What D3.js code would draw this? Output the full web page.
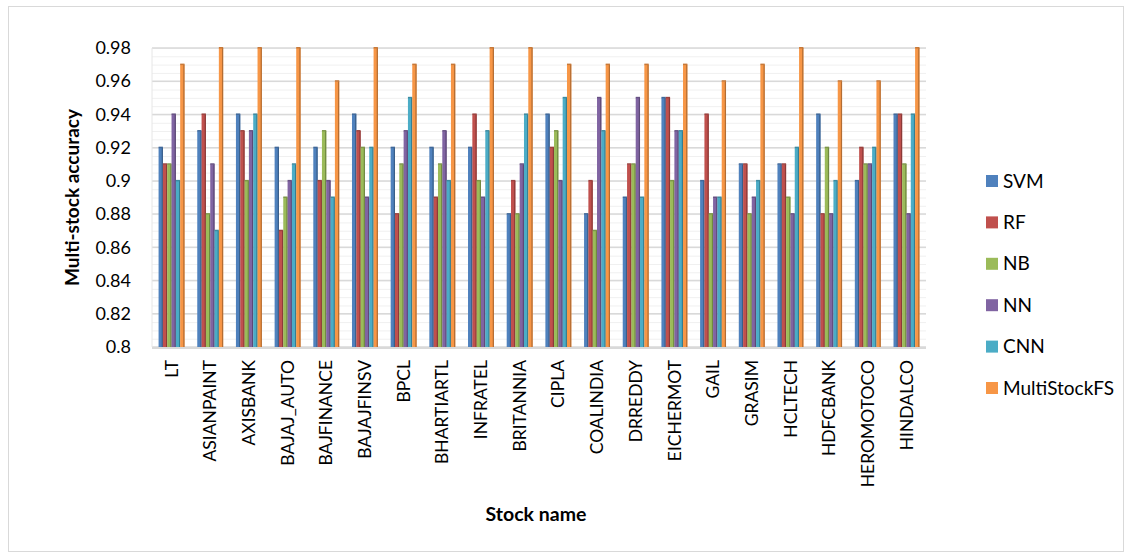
<!DOCTYPE html>
<html><head><meta charset="utf-8">
<script src="https://cdn.jsdelivr.net/npm/d3@7"></script>
<style>body{margin:0;background:#fff}svg{display:block}text{font-family:Lato,"Open Sans",sans-serif;fill:#000}</style>
</head><body><svg id="c" width="1132" height="560"></svg>
<script>
const categories = ["LT","ASIANPAINT","AXISBANK","BAJAJ_AUTO","BAJFINANCE","BAJAJFINSV","BPCL","BHARTIARTL","INFRATEL","BRITANNIA","CIPLA","COALINDIA","DRREDDY","EICHERMOT","GAIL","GRASIM","HCLTECH","HDFCBANK","HEROMOTOCO","HINDALCO"];
const seriesNames = ["SVM","RF","NB","NN","CNN","MultiStockFS"];
const SVM  = [0.92,0.93,0.94,0.92,0.92,0.94,0.92,0.92,0.92,0.88,0.94,0.88,0.89,0.95,0.90,0.91,0.91,0.94,0.90,0.94];
const RF   = [0.91,0.94,0.93,0.87,0.90,0.93,0.88,0.89,0.94,0.90,0.92,0.90,0.91,0.95,0.94,0.91,0.91,0.88,0.92,0.94];
const NB   = [0.91,0.88,0.90,0.89,0.93,0.92,0.91,0.91,0.90,0.88,0.93,0.87,0.91,0.90,0.88,0.88,0.89,0.92,0.91,0.91];
const NN   = [0.94,0.91,0.93,0.90,0.90,0.89,0.93,0.93,0.89,0.91,0.90,0.95,0.95,0.93,0.89,0.89,0.88,0.88,0.91,0.88];
const CNN  = [0.90,0.87,0.94,0.91,0.89,0.92,0.95,0.90,0.93,0.94,0.95,0.93,0.89,0.93,0.89,0.90,0.92,0.90,0.92,0.94];
const MultiStockFS = [0.97,0.98,0.98,0.98,0.96,0.98,0.97,0.97,0.98,0.98,0.97,0.97,0.97,0.97,0.96,0.97,0.98,0.96,0.96,0.98];
const yTicks = [0.8,0.82,0.84,0.86,0.88,0.9,0.92,0.94,0.96,0.98];
const colors = ["#4F81BD","#C0504D","#9BBB59","#8064A2","#4BACC6","#F79646"];
const seriesValues = [SVM,RF,NB,NN,CNN,MultiStockFS];

const svg = d3.select("#c");
svg.append("rect").attr("x",8.5).attr("y",6.5).attr("width",1115).attr("height",545).attr("fill","#fff").attr("stroke","#d9d9d9");

const pL=152, pR=926, pT=48, pB=347;
const x = d3.scaleBand().domain(categories).range([pL,pR]).paddingInner(0.33).paddingOuter(0.17);
const xs = d3.scaleBand().domain(seriesNames).range([0,x.bandwidth()]);
const y = d3.scaleLinear().domain([0.8,0.98]).range([pB,pT]);

// minor grid
const minor = d3.range(0.8,0.9801,0.005).map(v=>+v.toFixed(3));
svg.append("g").selectAll("line").data(minor).join("line")
  .attr("x1",pL).attr("x2",pR).attr("y1",d=>y(d)+0.5).attr("y2",d=>y(d)+0.5)
  .attr("stroke","#f0f0f0").attr("stroke-width",1);
// major grid
svg.append("g").selectAll("line").data(yTicks).join("line")
  .attr("x1",pL).attr("x2",pR).attr("y1",d=>y(d)).attr("y2",d=>y(d))
  .attr("stroke","#d9d9d9").attr("stroke-width",1.5);

// y axis
const ya = d3.axisLeft(y).tickValues(yTicks).tickFormat(d=>String(+d.toFixed(2))).tickSize(0).tickPadding(21);
const yg = svg.append("g").attr("transform",`translate(${pL},0)`).call(ya);
yg.select(".domain").remove();
yg.selectAll("text").style("font-size","18px").style("font-family","Lato,'Open Sans',sans-serif");
// floor
svg.append("line").attr("x1",pL).attr("x2",pR).attr("y1",pB+1).attr("y2",pB+1).attr("stroke","#d9d9d9").attr("stroke-width",2);
svg.append("line").attr("x1",pL).attr("x2",pL).attr("y1",pT).attr("y2",pB).attr("stroke","#e6e6e6").attr("stroke-width",1);

// bars
const gBars = svg.append("g");
seriesNames.forEach((s,si)=>{
  const vals = seriesValues[si];
  const col = d3.color(colors[si]);
  const g = gBars.append("g");
  g.selectAll("rect.f").data(categories).join("rect").attr("class","f")
    .attr("x",(c)=>x(c)+xs(s)).attr("width",xs.bandwidth())
    .attr("y",(c,i)=>y(vals[i])).attr("height",(c,i)=>pB-y(vals[i]))
    .attr("fill",colors[si]);
  g.selectAll("rect.s").data(categories).join("rect").attr("class","s")
    .attr("x",(c)=>x(c)+xs(s)+xs.bandwidth()-1.2).attr("width",1.2)
    .attr("y",(c,i)=>y(vals[i])).attr("height",(c,i)=>pB-y(vals[i]))
    .attr("fill",col.darker(0.9).toString());
  g.selectAll("rect.t").data(categories).join("rect").attr("class","t")
    .attr("x",(c)=>x(c)+xs(s)).attr("width",xs.bandwidth())
    .attr("y",(c,i)=>y(vals[i])-1).attr("height",1.5)
    .attr("fill",col.darker(0.6).toString());
});

// x labels
const xa = d3.axisBottom(x).tickSize(0).tickPadding(0);
const xg = svg.append("g").attr("transform",`translate(0,${pB+13})`).call(xa);
xg.select(".domain").remove();
xg.selectAll("text").attr("transform","rotate(-90)").attr("text-anchor","end")
  .attr("x",0).attr("y",0).attr("dy","0.35em").attr("dx",0)
  .style("font-size","17.5px").style("font-family","Lato,'Open Sans',sans-serif");

// axis titles
svg.append("text").attr("x",536).attr("y",521).attr("text-anchor","middle").style("font-size","19.5px").style("font-weight","bold").text("Stock name");
svg.append("text").attr("transform",`translate(79,${(pT+pB)/2}) rotate(-90)`).attr("text-anchor","middle").style("font-size","19px").style("font-weight","bold").text("Multi-stock accuracy");

// legend
const lg = svg.append("g").attr("transform","translate(986,181)");
seriesNames.forEach((s,i)=>{
  const r = lg.append("g").attr("transform",`translate(0,${i*41.4})`);
  r.append("rect").attr("x",0).attr("y",-6).attr("width",12).attr("height",12).attr("fill",colors[i]);
  r.append("text").attr("x",17).attr("y",0).attr("dy","0.35em").style("font-size","19px").text(s);
});
</script></body></html>
